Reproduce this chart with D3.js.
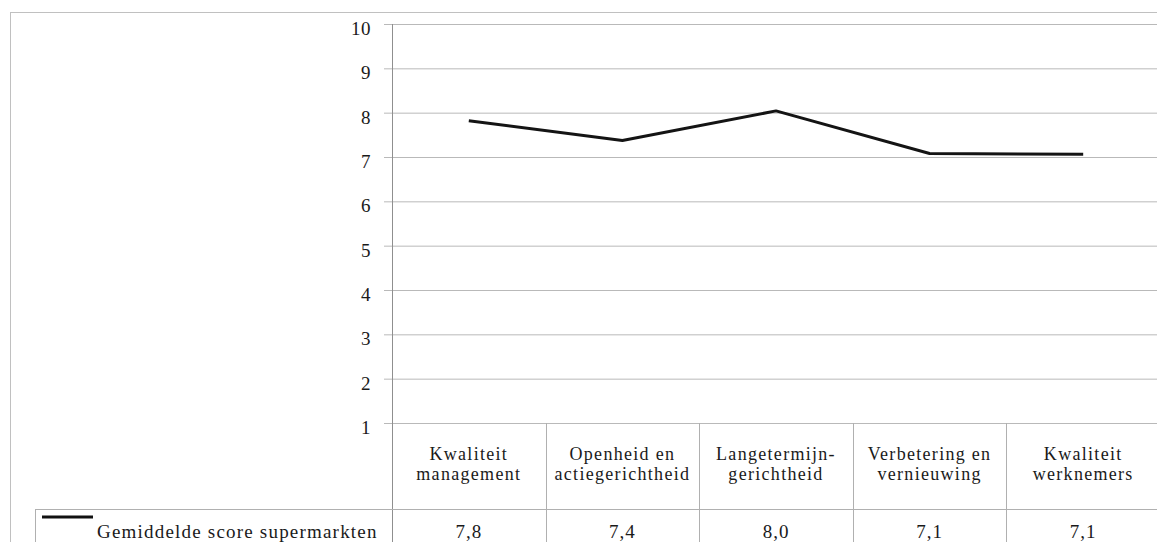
<!DOCTYPE html>
<html>
<head>
<meta charset="utf-8">
<script src="https://cdn.jsdelivr.net/npm/d3@7"></script>
<style>
  body { margin: 0; background: #fff; }
  svg { display: block; overflow: hidden; }
</style>
</head>
<body>
<div id="chart"></div>
<script>
// chart data
var categories = [
    ["Kwaliteit", "management"],
    ["Openheid en", "actiegerichtheid"],
    ["Langetermijn-", "gerichtheid"],
    ["Verbetering en", "vernieuwing"],
    ["Kwaliteit", "werknemers"]
];
var seriesName = "Gemiddelde score supermarkten";
var scores = [7.82, 7.37, 8.04, 7.08, 7.06];
var yTicks = [1, 2, 3, 4, 5, 6, 7, 8, 9, 10];

var W = 1157, H = 542;
var plotLeft = 392, plotTop = 24, plotBottom = 423, colW = 153.6;
var tableRow = 509, legendLeft = 35;

var svg = d3.select("#chart").append("svg")
    .attr("width", W)
    .attr("height", H)
    .attr("font-family", "Liberation Serif")
    .attr("font-size", 19)
    .attr("fill", "#1a1a1a");

// outer chart border (runs off the right and bottom of the picture)
svg.append("rect")
    .attr("x", 10.5).attr("y", 12.5)
    .attr("width", 1300).attr("height", 700)
    .attr("fill", "none")
    .attr("stroke", "#c0c0c0");

var x = d3.scaleBand()
    .domain(d3.range(categories.length))
    .range([plotLeft, plotLeft + colW * categories.length]);

var y = d3.scaleLinear()
    .domain([1, 10])
    .range([plotBottom, plotTop]);

var plotW = x.range()[1] - plotLeft;

//y axis with gridlines
var yAxis = svg.append("g")
    .attr("transform", "translate(" + plotLeft + ",0)")
    .call(d3.axisLeft(y).tickValues(yTicks).tickSize(-plotW).tickPadding(21).tickFormat(d3.format("d")));
yAxis.attr("font-family", "Liberation Serif").attr("font-size", 19);
yAxis.select(".domain").remove();
yAxis.selectAll(".tick line")
    .attr("x1", -8)
    .attr("stroke", "#b9b9b9");
yAxis.selectAll(".tick text")
    .attr("dy", "0.55em")
    .attr("fill", "#1a1a1a")
    .attr("letter-spacing", 0.5);

// vertical axis line, runs down through the data table
svg.append("line")
    .attr("x1", plotLeft + 0.5).attr("x2", plotLeft + 0.5)
    .attr("y1", plotTop).attr("y2", H + 10)
    .attr("stroke", "#8f8f8f");

// table column separators
svg.selectAll(".colSep")
    .data(d3.range(1, categories.length + 1))
    .enter().append("line")
    .attr("class", "colSep")
    .attr("x1", function(d) { return Math.round(plotLeft + colW * d) + 0.5; })
    .attr("x2", function(d) { return Math.round(plotLeft + colW * d) + 0.5; })
    .attr("y1", plotBottom)
    .attr("y2", H + 10)
    .attr("stroke", "#b0b0b0");

// table row line + legend cell border
svg.append("line")
    .attr("x1", legendLeft + 0.5).attr("x2", W + 10)
    .attr("y1", tableRow + 0.5).attr("y2", tableRow + 0.5)
    .attr("stroke", "#b0b0b0");
svg.append("line")
    .attr("x1", legendLeft + 0.5).attr("x2", legendLeft + 0.5)
    .attr("y1", tableRow).attr("y2", H + 10)
    .attr("stroke", "#b0b0b0");

// category labels in table header, two lines each
var catText = svg.selectAll(".catText")
    .data(categories)
    .enter().append("text")
    .attr("class", "catText")
    .attr("text-anchor", "middle")
    .attr("font-size", 18)
    .attr("letter-spacing", 1.3);
catText.selectAll("tspan")
    .data(function(d, i) { return d.map(function(t) { return {t: t, i: i}; }); })
    .enter().append("tspan")
    .attr("x", function(d) { return x(d.i) + x.bandwidth() / 2; })
    .attr("y", function(d, j) { return 460 + j * 20; })
    .text(function(d) { return d.t; });

// value cells
var fmt = d3.format(".1f");
svg.selectAll(".valText")
    .data(scores)
    .enter().append("text")
    .attr("class", "valText")
    .attr("text-anchor", "middle")
    .attr("x", function(d, i) { return x(i) + x.bandwidth() / 2; })
    .attr("y", 538)
    .attr("letter-spacing", 1)
    .text(function(d) { return fmt(d).replace(".", ","); });

// legend key
svg.append("line")
    .attr("x1", 42).attr("x2", 93)
    .attr("y1", 517).attr("y2", 517)
    .attr("stroke", "#111")
    .attr("stroke-width", 3);
svg.append("text")
    .attr("x", 97).attr("y", 538)
    .attr("letter-spacing", 1.2)
    .text(seriesName);

//the line itself
var line = d3.line()
    .x(function(d, i) { return x(i) + x.bandwidth() / 2; })
    .y(function(d) { return y(d); });

svg.append("path")
    .datum(scores)
    .attr("d", line)
    .attr("fill", "none")
    .attr("stroke", "#141414")
    .attr("stroke-width", 3)
    .attr("stroke-linejoin", "round");
</script>
</body>
</html>
